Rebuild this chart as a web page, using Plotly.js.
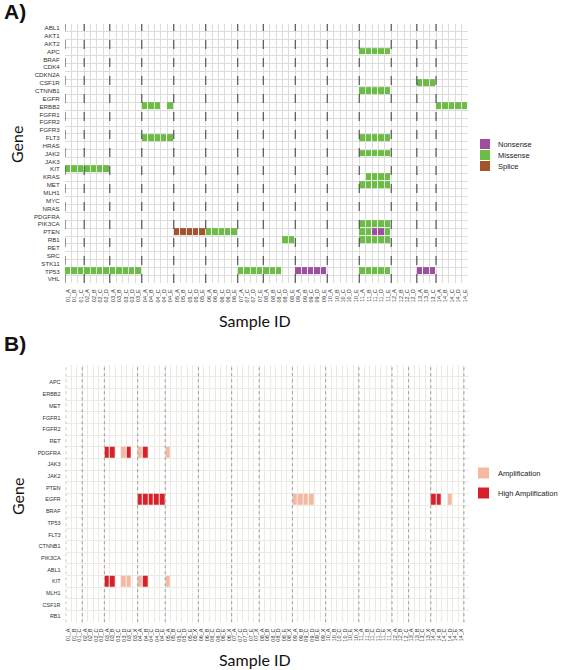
<!DOCTYPE html>
<html><head><meta charset="utf-8">
<script src="https://cdn.plot.ly/plotly-3.0.1.min.js"></script>
<style>body{margin:0;background:#fff}#chart{width:567px;height:670px}</style>
</head><body><div id="chart"></div>
<script>
// ---------- Panel A data ----------
const genesA = ["ABL1","AKT1","AKT2","APC","BRAF","CDK4","CDKN2A","CSF1R","CTNNB1","EGFR","ERBB2","FGFR1","FGFR2","FGFR3","FLT3","HRAS","JAK2","JAK3","KIT","KRAS","MET","MLH1","MYC","NRAS","PDGFRA","PIK3CA","PTEN","RB1","RET","SRC","STK11","TP53","VHL"];
const samplesA = ["01_A","01_B","01_C","02_A","02_B","02_C","02_D","03_A","03_B","03_C","03_D","03_E","04_A","04_B","04_C","04_D","04_E","05_A","05_B","05_C","05_D","05_E","06_A","06_B","06_C","06_D","06_E","07_A","07_C","07_D","07_E","08_A","08_B","08_C","08_D","08_E","09_A","09_B","09_C","09_D","09_E","10_A","10_B","10_C","10_D","10_E","11_A","11_B","11_C","11_D","11_E","12_A","12_B","12_C","12_D","13_A","13_B","13_C","14_A","14_B","14_C","14_D","14_E"];
const mutTypesA = ["Nonsense","Missense","Splice"];
const mutColorsA = ["#9b4f9c","#6cbd45","#a5532c"];
const nonsenseA = [
  ["TP53", ["09_A","09_B","09_C","09_D","09_E","13_A","13_B","13_C"]],
  ["PTEN", ["11_C","11_D"]]
];
const missenseA = [
  ["KIT", ["01_A","01_B","01_C","02_A","02_B","02_C","02_D"]],
  ["TP53", ["01_A","01_B","01_C","02_A","02_B","02_C","02_D","03_A","03_B","03_C","03_D","03_E","07_A","07_C","07_D","07_E","08_A","08_B","08_C","11_A","11_B","11_C","11_D","11_E"]],
  ["ERBB2", ["04_A","04_B","04_C","04_E","14_A","14_B","14_C","14_D","14_E"]],
  ["FLT3", ["04_A","04_B","04_C","04_D","04_E","11_A","11_B","11_C","11_D","11_E"]],
  ["PTEN", ["06_A","06_B","06_C","06_D","06_E","11_A","11_B","11_E"]],
  ["RB1", ["08_D","08_E","11_A","11_B","11_C","11_D","11_E"]],
  ["APC", ["11_A","11_B","11_C","11_D","11_E"]],
  ["CTNNB1", ["11_A","11_B","11_C","11_D","11_E"]],
  ["JAK2", ["11_A","11_B","11_C","11_D","11_E"]],
  ["KRAS", ["11_B","11_C","11_D","11_E"]],
  ["MET", ["11_A","11_B","11_C","11_D","11_E"]],
  ["PIK3CA", ["11_A","11_B","11_C","11_D","11_E"]],
  ["CSF1R", ["13_A","13_B","13_C"]]
];
const spliceA = [
  ["PTEN", ["05_A","05_B","05_C","05_D","05_E"]]
];

// ---------- Panel B data ----------
const genesB = ["APC","ERBB2","MET","FGFR1","FGFR2","RET","PDGFRA","JAK3","JAK2","PTEN","EGFR","BRAF","TP53","FLT3","CTNNB1","PIK3CA","ABL1","KIT","MLH1","CSF1R","RB1"];
const samplesB = ["01_A","01_B","01_C","02_A","02_B","02_C","02_D","03_A","03_B","03_C","03_D","03_E","03_X","04_A","04_B","04_C","04_D","04_E","05_A","05_B","05_C","05_D","05_E","05_X","06_A","06_B","06_C","06_D","06_E","06_X","07_A","07_C","07_D","07_E","07_X","08_A","08_B","08_C","08_D","08_E","08_X","09_A","09_B","09_C","09_D","09_E","09_X","10_A","10_B","10_C","10_D","10_E","10_X","11_A","11_B","11_C","11_D","11_E","11_X","12_A","12_B","12_C","13_A","13_B","13_C","13_X","14_A","14_B","14_C","14_D","14_E","14_X"];
const cnvTypesB = ["Amplification","High Amplification"];
const cnvColorsB = ["#f3b9a1","#d7202a"];
const ampB = [
  ["PDGFRA", ["03_D","04_A","05_A"]],
  ["EGFR", ["09_A","09_B","09_C","09_D","14_D"]],
  ["KIT", ["03_D","03_E","04_A","05_A"]]
];
const highAmpB = [
  ["PDGFRA", ["03_A","03_B","03_E","04_B"]],
  ["EGFR", ["04_A","04_B","04_C","04_D","04_E","14_A","14_B"]],
  ["KIT", ["03_A","03_B","04_B"]]
];

// ---------- build ----------
function buildZ(genes, samples, lists) {
  const z = genes.map(() => samples.map(() => null));
  lists.forEach((lst, k) => {
    lst.forEach(([g, ss]) => {
      const r = genes.indexOf(g);
      ss.forEach(s => { const c = samples.indexOf(s); if (r >= 0 && c >= 0) z[r][c] = k + 1; });
    });
  });
  return z;
}
function discreteScale(colors) {
  const n = colors.length, out = [];
  colors.forEach((c, i) => { out.push([i / n, c]); out.push([(i + 1) / n, c]); });
  return out;
}
function groupLines(samples, xref, yref, color, dash, addEnd) {
  const shapes = [];
  samples.forEach((s, i) => {
    if (i === 0 || s.split("_")[0] !== samples[i - 1].split("_")[0]) {
      shapes.push({type:"line", xref:xref, yref:yref + " domain", x0:i - 0.5, x1:i - 0.5, y0:0, y1:1,
        line:{color:color, width:1.2, dash:dash}, layer:"above"});
    }
  });
  if (addEnd) {
    const e = samples.length - 0.5;
    shapes.push({type:"line", xref:xref, yref:yref + " domain", x0:e, x1:e, y0:0, y1:1,
      line:{color:color, width:1.2, dash:dash}, layer:"above"});
  }
  return shapes;
}

const W = 567, H = 670;
const px = v => v / W, py = v => 1 - v / H;

const zA = buildZ(genesA, samplesA, [nonsenseA, missenseA, spliceA]);
const zB = buildZ(genesB, samplesB, [ampB, highAmpB]);

const traces = [
  {type:"heatmap", z:zA, x:samplesA.map((_, i) => i), y:genesA.map((_, i) => i),
   zmin:0.5, zmax:mutTypesA.length + 0.5, colorscale:discreteScale(mutColorsA), showscale:false,
   xgap:1, ygap:1, hoverinfo:"skip", xaxis:"x", yaxis:"y"},
  {type:"heatmap", z:zB, x:samplesB.map((_, i) => i), y:genesB.map((_, i) => i),
   zmin:0.5, zmax:cnvTypesB.length + 0.5, colorscale:discreteScale(cnvColorsB), showscale:false,
   xgap:1, ygap:1, hoverinfo:"skip", xaxis:"x2", yaxis:"y2"}
];

const tickFont = {family:"Liberation Sans, Arial, sans-serif", size:5.5, color:"#333"};
function axis(extra) {
  return Object.assign({showgrid:false, zeroline:false, showline:false, ticks:"outside",
    tickcolor:"rgba(0,0,0,0)", ticklen:3, tickfont:tickFont, fixedrange:true, tickmode:"array"}, extra);
}
const gridA = {tickmode:"linear", tick0:-0.5, dtick:1, showgrid:true, gridcolor:"#dcdcdc", gridwidth:1, ticks:""};
const gridB = {tickmode:"linear", tick0:-0.5, dtick:1, showgrid:true, gridcolor:"#ebebe2", gridwidth:1, ticks:""};

const titleFont = {family:"Lato, Open Sans, sans-serif", size:16, color:"#111"};
const legFont = {family:"Liberation Sans, Arial, sans-serif", size:7.5, color:"#222"};

const annotations = [
  {text:"<b>A)</b>", x:px(2), y:py(12), xref:"paper", yref:"paper", xanchor:"left", yanchor:"middle", showarrow:false,
   font:{family:"Liberation Sans, Arial, sans-serif", size:21, color:"#111"}},
  {text:"<b>B)</b>", x:px(2), y:py(343), xref:"paper", yref:"paper", xanchor:"left", yanchor:"middle", showarrow:false,
   font:{family:"Liberation Sans, Arial, sans-serif", size:21, color:"#111"}},
  {text:"Gene", x:px(17), y:py(145), xref:"paper", yref:"paper", xanchor:"center", yanchor:"middle", textangle:-90, showarrow:false, font:titleFont},
  {text:"Sample ID", x:px(254.5), y:py(320), xref:"paper", yref:"paper", xanchor:"center", yanchor:"middle", showarrow:false, font:titleFont},
  {text:"Gene", x:px(17), y:py(497), xref:"paper", yref:"paper", xanchor:"center", yanchor:"middle", textangle:-90, showarrow:false, font:titleFont},
  {text:"Sample ID", x:px(254.5), y:py(659), xref:"paper", yref:"paper", xanchor:"center", yanchor:"middle", showarrow:false, font:titleFont}
];
const shapes = [].concat(
  groupLines(samplesA, "x", "y", "#555555", "dash", false),
  groupLines(samplesB, "x2", "y2", "#a8a8a8", "dot", true)
);
// legends
mutTypesA.forEach((t, i) => {
  const cy = 144 + i * 11;
  shapes.push({type:"rect", xref:"paper", yref:"paper", x0:px(480), x1:px(490), y0:py(cy - 5), y1:py(cy + 5),
    fillcolor:mutColorsA[i], line:{width:0}});
  annotations.push({text:t, x:px(496), y:py(cy), xref:"paper", yref:"paper", xanchor:"left", yanchor:"middle", showarrow:false, font:legFont});
});
cnvTypesB.forEach((t, i) => {
  const cy = 473 + i * 20;
  shapes.push({type:"rect", xref:"paper", yref:"paper", x0:px(478), x1:px(489), y0:py(cy - 5.5), y1:py(cy + 5.5),
    fillcolor:cnvColorsB[i], line:{width:0}});
  annotations.push({text:t, x:px(496), y:py(cy), xref:"paper", yref:"paper", xanchor:"left", yanchor:"middle", showarrow:false, font:legFont});
});

const layout = {
  width:W, height:H, margin:{l:0, r:0, t:0, b:0}, paper_bgcolor:"#fff", plot_bgcolor:"#fff", showlegend:false,
  xaxis: axis({domain:[px(65), px(468)], range:[-0.5, samplesA.length - 0.5], tickvals:samplesA.map((_, i) => i), ticktext:samplesA, tickangle:-90, anchor:"y", minor:gridA}),
  yaxis: axis({domain:[py(283.1), py(24.1)], range:[genesA.length - 0.5, -0.5], tickvals:genesA.map((_, i) => i), ticktext:genesA, anchor:"x", minor:gridA, tickfont:Object.assign({}, tickFont, {size:6.2})}),
  xaxis2: axis({domain:[px(65.7), px(469.4)], range:[-0.5, samplesB.length + 0.5], tickvals:samplesB.map((_, i) => i), ticktext:samplesB, tickangle:-90, anchor:"y2", minor:gridB}),
  yaxis2: axis({domain:[py(622.3), py(365)], range:[genesB.length - 0.5, -1.5], tickvals:genesB.map((_, i) => i), ticktext:genesB, anchor:"x2", minor:gridB, tickfont:Object.assign({}, tickFont, {size:5.5})}),
  annotations:annotations, shapes:shapes
};
Plotly.newPlot("chart", traces, layout, {staticPlot:true, displayModeBar:false});
</script></body></html>
